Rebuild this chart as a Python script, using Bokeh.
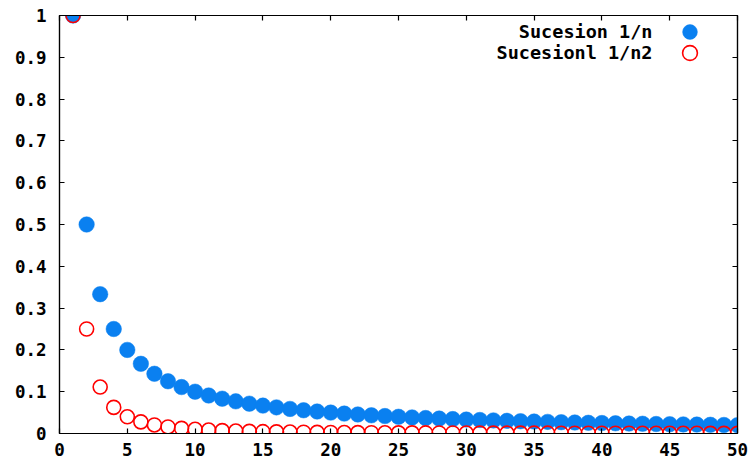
from bokeh.plotting import figure
from bokeh.models import (Range1d, FixedTicker, LinearAxis, CustomJSTickFormatter,
                          Legend, LegendItem, Label, ColumnDataSource)
from bokeh.embed import file_html
from bokeh.resources import INLINE

n = list(range(1, 51))
inv_n = [1, 0.5, 0.3333, 0.25, 0.2, 0.1667, 0.1429, 0.125, 0.1111, 0.1,
         0.0909, 0.0833, 0.0769, 0.0714, 0.0667, 0.0625, 0.0588, 0.0556, 0.0526, 0.05,
         0.0476, 0.0455, 0.0435, 0.0417, 0.04, 0.0385, 0.037, 0.0357, 0.0345, 0.0333,
         0.0323, 0.0313, 0.0303, 0.0294, 0.0286, 0.0278, 0.027, 0.0263, 0.0256, 0.025,
         0.0244, 0.0238, 0.0233, 0.0227, 0.0222, 0.0217, 0.0213, 0.0208, 0.0204, 0.02]
inv_n2 = [1, 0.25, 0.1111, 0.0625, 0.04, 0.0278, 0.0204, 0.0156, 0.0123, 0.01,
          0.0083, 0.0069, 0.0059, 0.0051, 0.0044, 0.0039, 0.0035, 0.0031, 0.0028, 0.0025,
          0.0023, 0.0021, 0.0019, 0.0017, 0.0016, 0.0015, 0.0014, 0.0013, 0.0012, 0.0011,
          0.001, 0.001, 0.0009, 0.0009, 0.0008, 0.0008, 0.0007, 0.0007, 0.0007, 0.0006,
          0.0006, 0.0006, 0.0005, 0.0005, 0.0005, 0.0005, 0.0005, 0.0004, 0.0004, 0.0004]
series_labels = ["Sucesion 1/n", "Sucesionl 1/n2"]
x_ticks = [0, 5, 10, 15, 20, 25, 30, 35, 40, 45, 50]
y_ticks = [0, 0.1, 0.2, 0.3, 0.4, 0.5, 0.6, 0.7, 0.8, 0.9, 1]

FONT = "DejaVu Sans Mono"
FS = "17.5px"
FS_LEG = "18.5px"
BLUE = "#0a80f0"
RED = "#ff0000"

p = figure(width=756, height=463, output_backend="svg", toolbar_location=None,
           x_range=Range1d(0, 50), y_range=Range1d(0, 1),
           min_border_left=59, min_border_right=19, min_border_top=15, min_border_bottom=30)
p.xgrid.visible = False
p.ygrid.visible = False
p.outline_line_color = "black"
p.outline_line_width = 1.2
p.background_fill_color = "white"
p.border_fill_color = "white"

fmt = CustomJSTickFormatter(code="return (Math.round(tick*10)/10).toString();")
blank = CustomJSTickFormatter(code="return '';")

def style_axis(ax, ticks, standoff=12, labels=True):
    ax.ticker = FixedTicker(ticks=ticks)
    ax.formatter = fmt if labels else blank
    ax.major_tick_in = 5
    ax.major_tick_out = 0
    ax.minor_tick_in = 0
    ax.minor_tick_out = 0
    ax.axis_line_color = "black"
    ax.axis_line_width = 1.2
    ax.major_tick_line_color = "black"
    ax.major_tick_line_width = 1.2
    ax.major_label_text_font = FONT
    ax.major_label_text_font_style = "bold"
    ax.major_label_text_color = "black"
    ax.major_label_text_font_size = FS
    ax.major_label_standoff = standoff if labels else 0

style_axis(p.xaxis[0], x_ticks, standoff=9)
style_axis(p.yaxis[0], y_ticks, standoff=13)
top = LinearAxis()
style_axis(top, x_ticks, labels=False)
p.add_layout(top, "above")
right = LinearAxis()
style_axis(right, y_ticks, labels=False)
p.add_layout(right, "right")

src = ColumnDataSource(dict(n=n, a=inv_n, b=inv_n2))
r1 = p.scatter("n", "a", source=src, marker="circle", size=15.5,
               fill_color=BLUE, line_color=BLUE, line_width=0.5)
r2 = p.scatter("n", "b", source=src, marker="circle", size=14,
               fill_color=None, line_color=RED, line_width=1.6)

G = 37
for i, (r, lab) in enumerate([(r1, series_labels[0]), (r2, series_labels[1])]):
    cy = 31 + 21 * i
    leg = Legend(items=[LegendItem(label="", renderers=[r])],
                 location=(689 - 59 - G / 2, 433 - (cy + G / 2)),
                 glyph_width=G, glyph_height=G, padding=0, margin=0,
                 label_width=0, label_height=0, label_standoff=0,
                 label_text_font_size="12px", border_line_color=None,
                 background_fill_alpha=0)
    p.add_layout(leg, "center")
    p.add_layout(Label(x=652 - 59, y=433 - cy, x_units="screen", y_units="screen",
                       text=lab, text_align="right", text_baseline="middle",
                       text_font=FONT, text_font_style="bold", text_font_size=FS_LEG,
                       text_color="black"))

open("out.html", "w").write(file_html(p, INLINE))
